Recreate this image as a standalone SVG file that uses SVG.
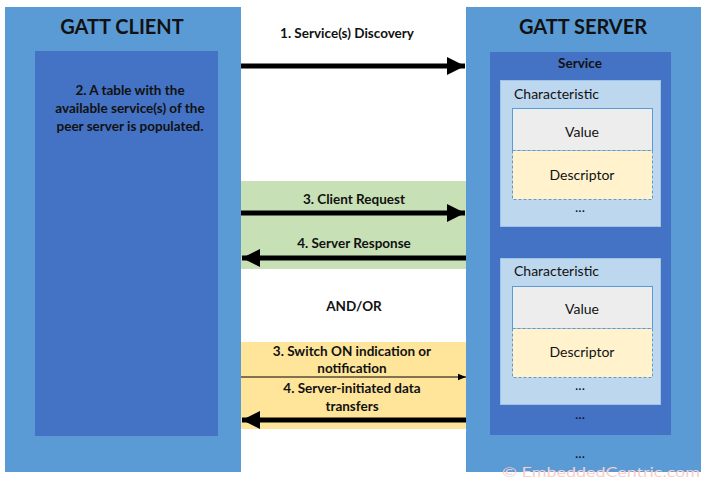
<svg xmlns="http://www.w3.org/2000/svg" width="707" height="481" viewBox="0 0 707 481">
<defs>
<style>
text{font-family:Lato,"Open Sans","Liberation Sans",sans-serif;fill:#111}
.t{font-weight:bold;font-size:20px;text-anchor:middle}
.b{font-weight:bold;font-size:13.5px;text-anchor:middle}
.n{font-size:14px;text-anchor:middle}
.outer{fill:#5B9BD5}
.inner{fill:#4472C4}
.ch{fill:#BDD7EE;stroke:#9DC3E6;stroke-width:1}
.val{fill:#EDEDED;stroke:#5B9BD5;stroke-width:1}
.desc{fill:#FFF2CC;stroke:#5B9BD5;stroke-width:1;stroke-dasharray:3 2}
.thick{stroke:#000;stroke-width:5;fill:none}
</style>
<marker id="ah" viewBox="0 0 10 10" refX="10" refY="5" markerWidth="3.6" markerHeight="3.6" orient="auto" markerUnits="strokeWidth"><path d="M0,0 L10,5 L0,10 z" fill="#000"/></marker>
<marker id="ahs" viewBox="0 0 10 10" refX="10" refY="5" markerWidth="8" markerHeight="8" orient="auto" markerUnits="strokeWidth"><path d="M0,1 L10,5 L0,9 z" fill="#000"/></marker>
</defs>
<rect x="0" y="0" width="707" height="481" fill="#fff"/>
<rect x="241" y="181" width="225" height="88" fill="#C8E0B6"/>
<rect x="241" y="342" width="225" height="87" fill="#FFE59A"/>
<g id="client">
<rect class="outer" x="5" y="7" width="236" height="465"/>
<text class="t" x="122" y="34">GATT CLIENT</text>
<rect class="inner" x="35" y="51" width="183" height="385"/>
<text class="b" x="130" y="95">2. A table with the</text>
<text class="b" x="130" y="113">available service(s) of the</text>
<text class="b" x="130" y="131">peer server is populated.</text>
</g>
<g id="server">
<rect class="outer" x="466" y="7" width="235" height="465"/>
<text class="t" x="583" y="34">GATT SERVER</text>
<rect class="inner" x="490" y="52" width="181" height="383"/>
<text class="b" x="580" y="68">Service</text>
<g id="char1">
<rect class="ch" x="500.5" y="80.5" width="160" height="146"/>
<text x="514" y="99" style="font-size:14px">Characteristic</text>
<rect class="val" x="512.5" y="108.5" width="140" height="42"/>
<text class="n" x="582" y="137">Value</text>
<rect class="desc" x="512.5" y="150.5" width="140" height="49"/>
<text class="n" x="582" y="180">Descriptor</text>
<text class="n" x="580" y="212">...</text>
</g>
<g id="char2">
<rect class="ch" x="500.5" y="258.5" width="160" height="146"/>
<text x="514" y="276" style="font-size:14px">Characteristic</text>
<rect class="val" x="512.5" y="286.5" width="140" height="42"/>
<text class="n" x="582" y="314">Value</text>
<rect class="desc" x="512.5" y="328.5" width="140" height="49"/>
<text class="n" x="582" y="357">Descriptor</text>
<text class="n" x="580" y="390">...</text>
</g>
<text class="n" x="580" y="419">...</text>
<text class="n" x="580" y="458">...</text>
</g>
<g id="connectors">
<line class="thick" x1="241" y1="66" x2="465" y2="66" marker-end="url(#ah)"/>
<text class="b" x="347" y="38">1. Service(s) Discovery</text>
<line class="thick" x1="241" y1="213" x2="465" y2="213" marker-end="url(#ah)"/>
<text class="b" x="354" y="204">3. Client Request</text>
<line class="thick" x1="466" y1="258" x2="242" y2="258" marker-end="url(#ah)"/>
<text class="b" x="354" y="248">4. Server Response</text>
<text class="b" x="354" y="311">AND/OR</text>
<text class="b" x="352" y="356">3. Switch ON indication or</text>
<text class="b" x="352" y="373">notification</text>
<line x1="241" y1="377" x2="466" y2="377" stroke="#000" stroke-width="1" marker-end="url(#ahs)"/>
<text class="b" x="352" y="393">4. Server-initiated data</text>
<text class="b" x="352" y="411">transfers</text>
<line class="thick" x1="466" y1="420" x2="242" y2="420" marker-end="url(#ah)"/>
</g>
<text x="502" y="477" textLength="198" lengthAdjust="spacingAndGlyphs" style="font-size:13px;fill:#F6CFCF">© EmbeddedCentric.com</text>
</svg>
